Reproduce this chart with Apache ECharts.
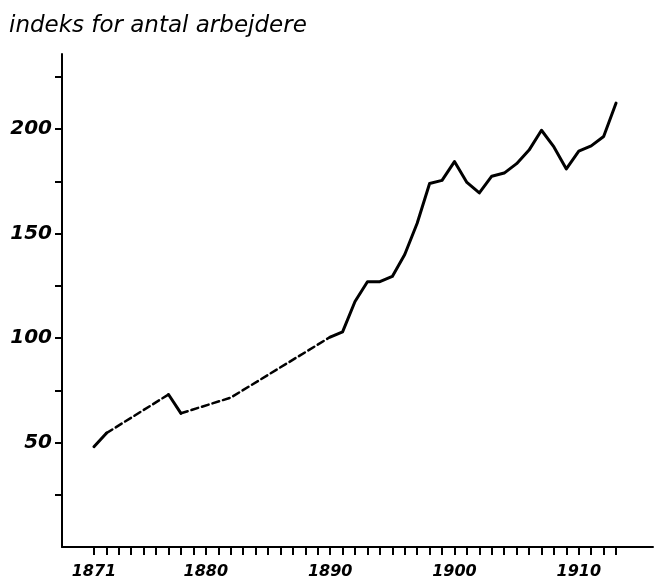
<!DOCTYPE html>
<html>
<head>
<meta charset="utf-8">
<script src="https://cdn.jsdelivr.net/npm/echarts@6/dist/echarts.min.js"></script>
<style>
  html, body { margin: 0; padding: 0; background: #fff; }
  #chart { width: 654px; height: 581px; }
</style>
</head>
<body>
<div id="chart"></div>
<script>
// years and index values
const years = [1871, 1872, 1877, 1878, 1882, 1890, 1891, 1892, 1893, 1894, 1895, 1896,
  1897, 1898, 1899, 1900, 1901, 1902, 1903, 1904, 1905, 1906, 1907, 1908, 1909, 1910,
  1911, 1912, 1913]
const index = [48, 54.5, 73, 64, 71.5, 100.5, 103, 117.5, 127, 127, 129.5, 140,
  155, 174, 175.5, 184.5, 174.5, 169.5, 177.5, 179, 183.5, 190, 199.5, 191.5, 181, 189.5,
  192, 196.5, 212.5]
// stretches drawn dashed (estimated years)
const dashedSpans = [[1872, 1877], [1878, 1890]]

const xTickYears = []
for (let y = 1871; y <= 1913; y++) xTickYears.push(y)
const xLabelYears = [1871, 1880, 1890, 1900, 1910]
const yTicks = [25, 50, 75, 100, 125, 150, 175, 200, 225]
const yLabels = [50, 100, 150, 200]

const isDashed = (a, b) => dashedSpans.some(([s, e]) => a >= s && b <= e)

// split the curve into solid / dashed runs
const runs = []
for (let i = 0; i < years.length - 1; i++) {
  const dash = isDashed(years[i], years[i + 1])
  const last = runs[runs.length - 1]
  if (last && last.dash === dash) {
    last.data.push([years[i + 1], index[i + 1]])
  } else {
    runs.push({ dash, data: [[years[i], index[i]], [years[i + 1], index[i + 1]]] })
  }
}

const font = 'DejaVu Sans'
const chart = echarts.init(document.getElementById('chart'), null, { renderer: 'canvas' })

chart.setOption({
  animation: false,
  backgroundColor: '#fff',
  title: {
    text: 'indeks for antal arbejdere',
    left: 9,
    top: 15,
    padding: 0,
    textStyle: { fontFamily: font, fontStyle: 'oblique', fontWeight: 'normal', fontSize: 23, color: '#000' },
  },
  grid: { left: 62, right: 1, top: 54, bottom: 34 },
  xAxis: {
    type: 'value',
    min: 1868.43,
    max: 1915.97,
    axisLine: { lineStyle: { color: '#000', width: 2 } },
    axisTick: {
      customValues: xTickYears,
      length: 8,
      lineStyle: { color: '#000', width: 2 },
    },
    axisLabel: {
      customValues: xLabelYears,
      formatter: v => String(v),
      margin: 17,
      fontFamily: font,
      fontStyle: 'oblique',
      fontWeight: 'bold',
      fontSize: 16,
      color: '#000',
    },
    splitLine: { show: false },
  },
  yAxis: {
    type: 'value',
    min: 0,
    max: 236,
    axisLine: { show: true, lineStyle: { color: '#000', width: 2 } },
    axisTick: {
      show: true,
      customValues: yTicks,
      length: 7,
      lineStyle: { color: '#000', width: 2 },
    },
    axisLabel: {
      customValues: yLabels,
      margin: 10,
      fontFamily: font,
      fontStyle: 'oblique',
      fontWeight: 'bold',
      fontSize: 20,
      color: '#000',
    },
    splitLine: { show: false },
  },
  series: runs.map(r => ({
    type: 'line',
    data: r.data,
    showSymbol: false,
    symbol: 'none',
    silent: true,
    lineStyle: {
      color: '#000',
      width: r.dash ? 2.5 : 3,
      type: r.dash ? [7, 4] : 'solid',
      cap: 'round',
      join: 'round',
    },
  })),
})
</script>
</body>
</html>
